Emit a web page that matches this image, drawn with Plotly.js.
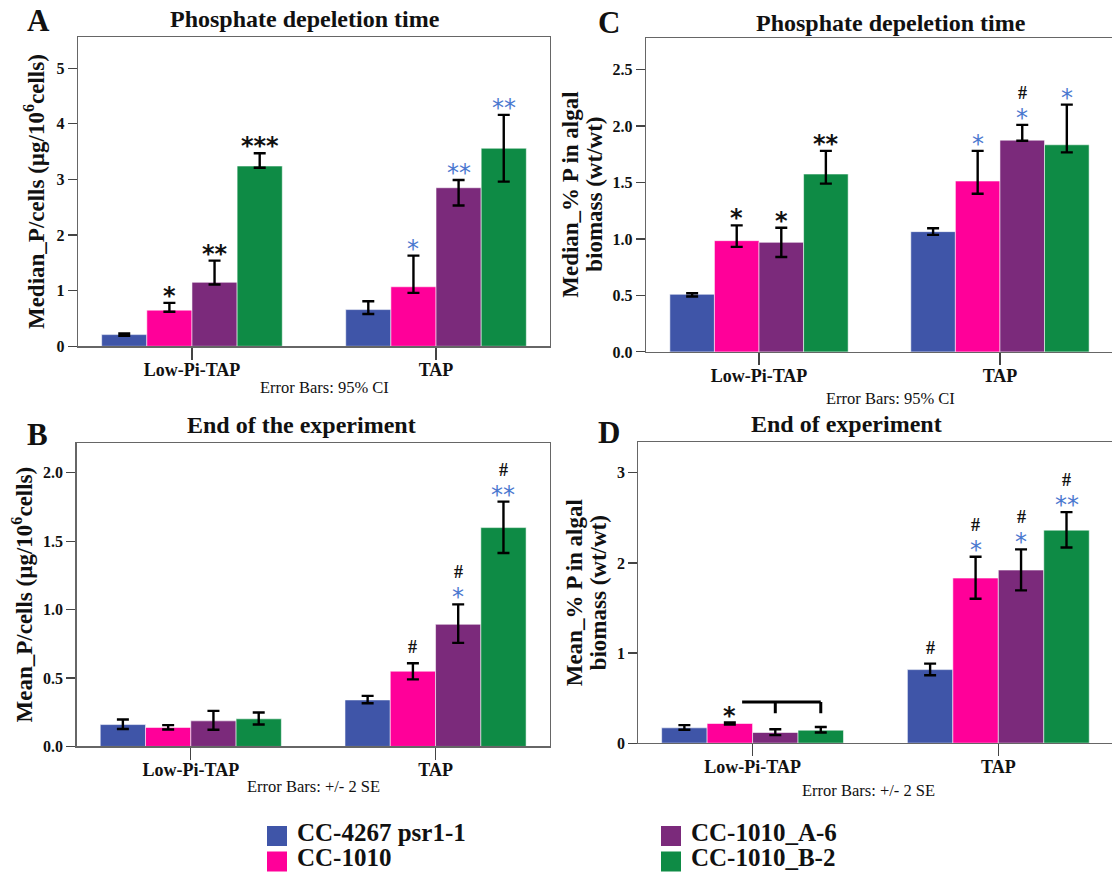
<!DOCTYPE html>
<html>
<head>
<meta charset="utf-8">
<script src="https://cdn.plot.ly/plotly-3.0.1.min.js"></script>
<style>html,body{margin:0;padding:0;background:#fff;}#chart{width:1112px;height:876px;}</style>
</head>
<body>
<div id="chart"></div>
<script>
// ---------------- DATA ----------------
const categories = ['Low-Pi-TAP', 'TAP'];
const strains = ['CC-4267 psr1-1', 'CC-1010', 'CC-1010_A-6', 'CC-1010_B-2'];
const strainColors = ['#3F55A8', '#FF0099', '#7B2A7B', '#0E8B45'];

// Panel A: Median P/cells (µg/10^6 cells), phosphate depletion time, 95% CI  [strain][category]
const aValue = [[0.21, 0.66], [0.65, 1.07], [1.15, 2.85], [3.24, 3.56]];
const aLow   = [[0.19, 0.58], [0.62, 0.96], [1.11, 2.53], [3.21, 2.96]];
const aHigh  = [[0.23, 0.81], [0.78, 1.63], [1.54, 2.99], [3.47, 4.16]];
// Panel B: Mean P/cells, end of experiment, +/- 2 SE
const bValue = [[0.160, 0.340], [0.139, 0.550], [0.187, 0.893], [0.202, 1.600]];
const bLow   = [[0.127, 0.316], [0.124, 0.490], [0.122, 0.757], [0.160, 1.414]];
const bHigh  = [[0.197, 0.370], [0.156, 0.608], [0.260, 1.039], [0.248, 1.790]];
// Panel C: Median % P in algal biomass, phosphate depletion time, 95% CI
const cValue = [[0.51, 1.065], [0.985, 1.513], [0.97, 1.875], [1.575, 1.834]];
const cLow   = [[0.49, 1.036], [0.93, 1.40], [0.84, 1.87], [1.49, 1.767]];
const cHigh  = [[0.52, 1.095], [1.12, 1.78], [1.10, 2.01], [1.78, 2.19]];
// Panel D: Mean % P in algal biomass, end of experiment, +/- 2 SE
const dValue = [[0.170, 0.816], [0.218, 1.832], [0.118, 1.921], [0.144, 2.364]];
const dLow   = [[0.148, 0.754], [0.207, 1.603], [0.089, 1.696], [0.118, 2.172]];
const dHigh  = [[0.200, 0.883], [0.229, 2.069], [0.155, 2.150], [0.180, 2.564]];

// Significance marks [category][strain]
const aStars = [['', '*', '**', '***'], ['', '*', '**', '**']];
const aHash  = [['', '', '', ''], ['', '', '', '']];
const bStars = [['', '', '', ''], ['', '', '*', '**']];
const bHash  = [['', '', '', ''], ['', '#', '#', '#']];
const cStars = [['', '*', '*', '**'], ['', '*', '*', '*']];
const cHash  = [['', '', '', ''], ['', '', '#', '']];
const dStars = [['', '*', '', ''], ['', '*', '*', '**']];
const dHash  = [['', '', '', ''], ['#', '#', '#', '#']];
const starColorByCategory = ['#111111', '#4A78CF'];

// Bracket in panel D (Low-Pi-TAP): from CC-1010 to CC-1010_B-2, drop ticks at A-6 and B-2
const dBracket = {category: 0, fromStrain: 1, toStrain: 3, tickStrains: [2, 3], y: 0.458, tickY: 0.333};

// ---------------- LAYOUT HELPERS ----------------
const W = 1112, H = 876;
const px = x => x / W;
const py = y => 1 - y / H;
const serif = 'Liberation Serif, Times New Roman, serif';
const bargap = 0.26;
const barW = (1 - bargap) / strains.length;
const barX = (cat, s) => cat + (s - (strains.length - 1) / 2) * barW;

const panels = [
  {key: 'A', vals: aValue, lo: aLow, hi: aHigh, stars: aStars, hash: aHash, xa: 'x', ya: 'y',
   dom: {x: [78, 550], y: [37, 346.7]}, xr: [-0.467, 1.467], yr: [0, 5.56], dtick: 1, fmt: 'd',
   title: 'Median_P/cells (µg/10<sup>6</sup>cells)', standoff: 5,
   head: 'Phosphate depeletion time', headPos: [305, 19], letterPos: [38, 21],
   note: 'Error Bars: 95% CI', notePos: [324, 388]},
  {key: 'B', vals: bValue, lo: bLow, hi: bHigh, stars: bStars, hash: bHash, xa: 'x2', ya: 'y2',
   dom: {x: [76.5, 549.6], y: [443.3, 747.3]}, xr: [-0.467, 1.466], yr: [0, 2.22], dtick: 0.5, fmt: '.1f',
   title: 'Mean_P/cells (µg/10<sup>6</sup>cells)', standoff: 4,
   head: 'End of the experiment', headPos: [301, 425], letterPos: [37, 435],
   note: 'Error Bars: +/- 2 SE', notePos: [313, 787]},
  {key: 'C', vals: cValue, lo: cLow, hi: cHigh, stars: cStars, hash: cHash, xa: 'x3', ya: 'y3',
   dom: {x: [646, 1112], y: [38, 352.3]}, xr: [-0.469, 1.465], yr: [0, 2.78], dtick: 0.5, fmt: '.1f',
   titleLines: ['Median_% P in algal', 'biomass (wt/wt)'], titleX: [571, 595], titleY: 195,
   head: 'Phosphate depeletion time', headPos: [891, 23], letterPos: [609, 23],
   note: 'Error Bars: 95% CI', notePos: [890, 399]},
  {key: 'D', vals: dValue, lo: dLow, hi: dHigh, stars: dStars, hash: dHash, xa: 'x4', ya: 'y4',
   dom: {x: [638.3, 1112], y: [442.7, 744]}, xr: [-0.465, 1.4626], yr: [0, 3.34], dtick: 1, fmt: 'd',
   titleLines: ['Mean_% P in algal', 'biomass (wt/wt)'], titleX: [574, 598], titleY: 594,
   head: 'End of experiment', headPos: [846, 424], letterPos: [609, 433],
   note: 'Error Bars: +/- 2 SE', notePos: [868, 791]}
];

const traces = [];
const annotations = [];
const shapes = [];
// small base font keeps each legend box compact; entry text itself is set at 25px
const legendFont = {family: serif, size: 12, weight: 'bold', color: '#111'};
const legendBase = {xanchor: 'left', yanchor: 'middle', orientation: 'v', font: legendFont,
                    bgcolor: 'rgba(0,0,0,0)', borderwidth: 0, tracegroupgap: 0, itemwidth: 30};
const legendIds = ['legend', 'legend2', 'legend3', 'legend4'];
const legendPos = [[257, 836], [257, 862], [651, 836], [651, 862]];
const layout = {
  width: W, height: H,
  margin: {l: 0, r: 0, t: 0, b: 0},
  paper_bgcolor: '#ffffff', plot_bgcolor: '#ffffff',
  barmode: 'group', bargap: bargap, bargroupgap: 0,
  showlegend: true,
  annotations: annotations,
  shapes: shapes
};
legendIds.forEach((id, i) => {
  layout[id] = Object.assign({}, legendBase, {x: px(legendPos[i][0]), y: py(legendPos[i][1])});
});

panels.forEach((p, pi) => {
  const axN = p.xa.slice(1);
  strains.forEach((name, s) => {
    traces.push({
      type: 'bar', name: name, x: categories, y: p.vals[s],
      xaxis: p.xa, yaxis: p.ya,
      marker: {color: strainColors[s], line: {color: 'rgba(255,255,255,0.55)', width: 1}},
      error_y: {type: 'data', symmetric: false,
                array: p.hi[s].map((h, i) => h - p.vals[s][i]),
                arrayminus: p.lo[s].map((l, i) => p.vals[s][i] - l),
                color: '#000', thickness: 2.4, width: 6},
      showlegend: false, legendgroup: name,
      hoverinfo: 'skip'
    });
  });
  const xKey = 'xaxis' + axN, yKey = 'yaxis' + axN;
  layout[xKey] = {
    domain: [px(p.dom.x[0]), px(p.dom.x[1])], anchor: p.ya,
    type: 'category', range: p.xr, fixedrange: true,
    showline: true, mirror: true, linecolor: '#666', linewidth: 1.2,
    ticks: 'outside', ticklen: 12, tickwidth: 1.2, tickcolor: '#444', ticklabelstandoff: -5,
    tickfont: {family: serif, size: 18, weight: 'bold', color: '#111'},
    showgrid: false, zeroline: false
  };
  layout[yKey] = {
    domain: [py(p.dom.y[1]), py(p.dom.y[0])], anchor: p.xa,
    range: p.yr, dtick: p.dtick, tick0: 0, tickformat: p.fmt, fixedrange: true,
    showline: true, mirror: true, linecolor: '#666', linewidth: 1.2,
    ticks: 'outside', ticklen: 9, tickwidth: 1.2, tickcolor: '#444',
    tickfont: {family: serif, size: 16, weight: 'bold', color: '#111'},
    showgrid: false, zeroline: false
  };
  if (p.title) {
    layout[yKey].title = {text: p.title, standoff: p.standoff,
                          font: {family: serif, size: 23, weight: 'bold', color: '#111'}};
  } else {
    p.titleLines.forEach((t, li) => {
      annotations.push({xref: 'paper', yref: 'paper', x: px(p.titleX[li]), y: py(p.titleY),
        text: t, textangle: -90, showarrow: false, xanchor: 'center', yanchor: 'middle',
        font: {family: serif, size: 23, weight: 'bold', color: '#111'}});
    });
  }
  // panel heading, letter, error bar note
  annotations.push({xref: 'paper', yref: 'paper', x: px(p.headPos[0]), y: py(p.headPos[1]),
    text: p.head, showarrow: false, xanchor: 'center', yanchor: 'middle',
    font: {family: serif, size: 24, weight: 'bold', color: '#111'}});
  annotations.push({xref: 'paper', yref: 'paper', x: px(p.letterPos[0]), y: py(p.letterPos[1]),
    text: p.key, showarrow: false, xanchor: 'center', yanchor: 'middle',
    font: {family: serif, size: 31, weight: 'bold', color: '#111'}});
  annotations.push({xref: 'paper', yref: 'paper', x: px(p.notePos[0]), y: py(p.notePos[1]),
    text: p.note, showarrow: false, xanchor: 'center', yanchor: 'middle',
    font: {family: serif, size: 16.5, color: '#111'}});
  // significance marks
  categories.forEach((c, ci) => {
    strains.forEach((n, s) => {
      const st = p.stars[ci][s], hs = p.hash[ci][s];
      const top = p.hi[s][ci];
      if (st) {
        annotations.push({xref: p.xa, yref: p.ya, x: barX(ci, s), y: top, yshift: 7,
          text: st, showarrow: false, xanchor: 'center', yanchor: 'middle',
          font: {family: 'DejaVu Sans, sans-serif', size: 24, weight: ci === 0 ? 'bold' : 'normal', color: starColorByCategory[ci]}});
      }
      if (hs) {
        annotations.push({xref: p.xa, yref: p.ya, x: barX(ci, s), y: top, yshift: st ? 32 : 16,
          text: hs, showarrow: false, xanchor: 'center', yanchor: 'middle',
          font: {family: serif, size: 18, weight: 'bold', color: '#111'}});
      }
    });
  });
});

// legend entries: square swatches that carry no data points
strains.forEach((name, s) => {
  traces.push({
    type: 'scatter', mode: 'markers', name: '<span style="font-size:25px">' + name + '</span>',
    x: [null], y: [null], xaxis: 'x', yaxis: 'y',
    marker: {symbol: 'square', size: 16, color: strainColors[s], line: {color: strainColors[s], width: 4}},
    legend: legendIds[s], legendgroup: name, showlegend: true,
    hoverinfo: 'skip'
  });
});

// bracket in panel D
(function () {
  const b = dBracket;
  const x0 = barX(b.category, b.fromStrain) + 0.27 * barW;
  const x1 = barX(b.category, b.toStrain);
  const line = {color: '#000', width: 3};
  shapes.push({type: 'line', xref: 'x4', yref: 'y4', x0: x0, x1: x1, y0: b.y, y1: b.y, line: line});
  b.tickStrains.forEach(s => {
    const xt = barX(b.category, s);
    shapes.push({type: 'line', xref: 'x4', yref: 'y4', x0: xt, x1: xt, y0: b.y, y1: b.tickY, line: line});
  });
})();

Plotly.newPlot('chart', traces, layout, {staticPlot: true, displayModeBar: false});
</script>
</body>
</html>
